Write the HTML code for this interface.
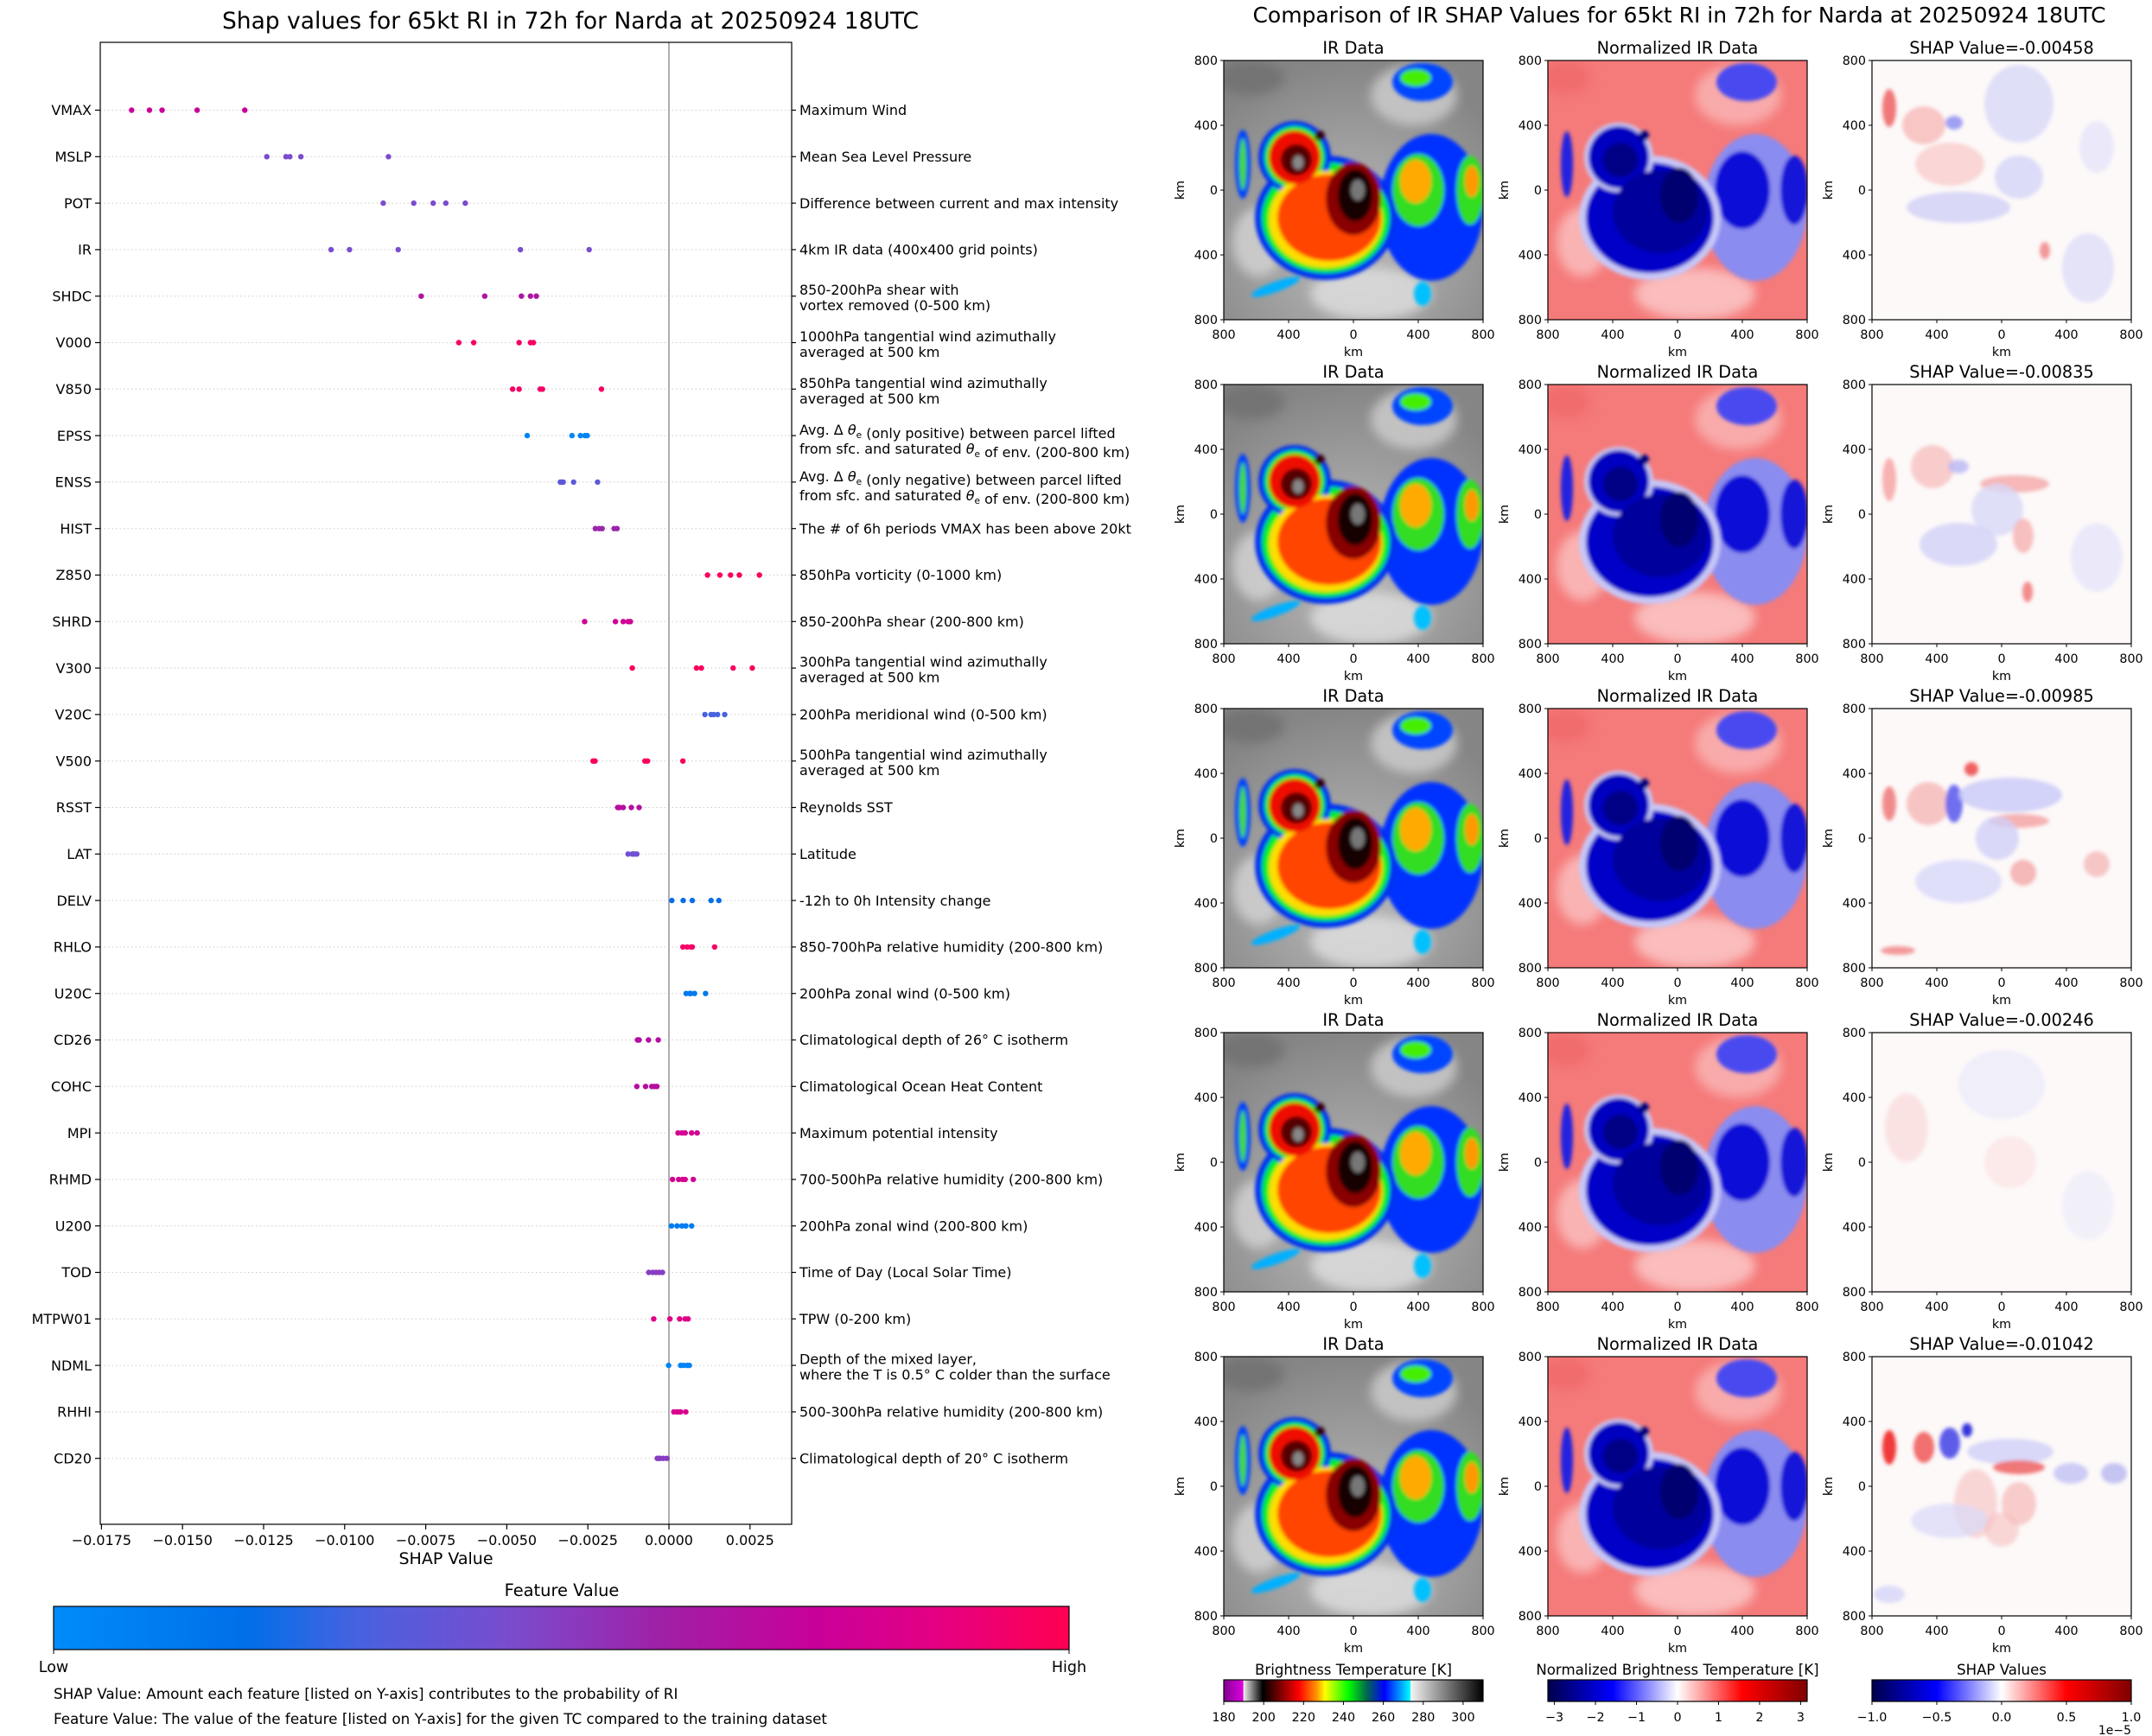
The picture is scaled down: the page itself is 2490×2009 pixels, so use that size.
<!DOCTYPE html>
<html><head><meta charset="utf-8">
<style>
html,body{margin:0;padding:0;background:#fff;}
svg{display:block;font-family:"DejaVu Sans","Liberation Sans",sans-serif;}
</style></head>
<body>
<svg id="root" xmlns="http://www.w3.org/2000/svg" width="2490" height="2009" viewBox="0 0 2490 2009">
<defs>
  <filter id="soft" x="-10%" y="-10%" width="120%" height="120%"><feGaussianBlur stdDeviation="2.2"/></filter>
  <filter id="soft2" x="-20%" y="-20%" width="140%" height="140%"><feGaussianBlur stdDeviation="6"/></filter>
  <clipPath id="pclip"><rect x="0" y="0" width="300" height="300"/></clipPath>
  <linearGradient id="fvgrad" x1="0" x2="1" y1="0" y2="0">
    <stop offset="0" stop-color="#008bfa"/><stop offset="0.19" stop-color="#006fe8"/>
    <stop offset="0.30" stop-color="#4862e0"/><stop offset="0.45" stop-color="#7a4cce"/>
    <stop offset="0.60" stop-color="#a020a6"/><stop offset="0.75" stop-color="#c8009a"/>
    <stop offset="0.87" stop-color="#e40082"/><stop offset="1" stop-color="#ff0052"/>
  </linearGradient>
  <linearGradient id="irgrad" x1="0" x2="1">
    <stop offset="0" stop-color="#800090"/><stop offset="0.075" stop-color="#e000e0"/>
    <stop offset="0.076" stop-color="#f0f0f0"/><stop offset="0.15" stop-color="#000"/>
    <stop offset="0.22" stop-color="#800000"/><stop offset="0.29" stop-color="#ff0000"/>
    <stop offset="0.36" stop-color="#ff9900"/><stop offset="0.39" stop-color="#ffff00"/>
    <stop offset="0.48" stop-color="#00ff00"/><stop offset="0.55" stop-color="#006a4a"/>
    <stop offset="0.62" stop-color="#0000ff"/><stop offset="0.72" stop-color="#00ffff"/>
    <stop offset="0.721" stop-color="#f4f4f4"/><stop offset="1" stop-color="#000"/>
  </linearGradient>
  <linearGradient id="seis" x1="0" x2="1">
    <stop offset="0" stop-color="#00004c"/><stop offset="0.25" stop-color="#0000ff"/>
    <stop offset="0.5" stop-color="#ffffff"/><stop offset="0.75" stop-color="#ff0000"/>
    <stop offset="1" stop-color="#800000"/>
  </linearGradient>
  <radialGradient id="bgir" cx="0.5" cy="0.7" r="0.7">
    <stop offset="0" stop-color="#bdbdbd"/><stop offset="1" stop-color="#858585"/>
  </radialGradient>
  <symbol id="irimg" viewBox="0 0 300 300">
    <rect width="300" height="300" fill="url(#bgir)"/>
    <g filter="url(#soft2)" opacity="0.8">
      <ellipse cx="170" cy="270" rx="70" ry="30" fill="#e0e0e0"/>
      <ellipse cx="220" cy="40" rx="50" ry="35" fill="#cfcfcf"/>
      <ellipse cx="30" cy="20" rx="40" ry="20" fill="#6f6f6f"/>
      <ellipse cx="40" cy="210" rx="30" ry="40" fill="#d4d4d4"/>
    </g>
    <g filter="url(#soft)">
      <ellipse cx="240" cy="170" rx="60" ry="85" fill="#0033ff"/>
      <ellipse cx="230" cy="25" rx="35" ry="22" fill="#0044ff"/>
      <ellipse cx="222" cy="20" rx="18" ry="10" fill="#44ee00"/>
      <ellipse cx="225" cy="150" rx="30" ry="42" fill="#33dd22"/>
      <ellipse cx="222" cy="140" rx="18" ry="25" fill="#ffaa00"/>
      <ellipse cx="285" cy="150" rx="16" ry="40" fill="#33dd22"/>
      <ellipse cx="287" cy="140" rx="8" ry="18" fill="#ff9900"/>
      <ellipse cx="22" cy="120" rx="9" ry="40" fill="#0040ff"/>
      <ellipse cx="22" cy="120" rx="4" ry="30" fill="#44dd00"/>
      <ellipse cx="118" cy="182" rx="82" ry="72" fill="#0030f0"/>
      <ellipse cx="118" cy="182" rx="74" ry="64" fill="#00ee22"/>
      <ellipse cx="82" cy="112" rx="42" ry="42" fill="#0030f0"/>
      <ellipse cx="82" cy="112" rx="35" ry="36" fill="#00ee22"/>
      <ellipse cx="118" cy="184" rx="66" ry="56" fill="#ffdd00"/>
      <ellipse cx="122" cy="182" rx="60" ry="50" fill="#ff4400"/>
      <ellipse cx="82" cy="112" rx="30" ry="31" fill="#ee1100"/>
      <ellipse cx="150" cy="160" rx="32" ry="42" fill="#880000"/>
      <ellipse cx="152" cy="156" rx="20" ry="30" fill="#150000"/>
      <ellipse cx="155" cy="150" rx="8" ry="12" fill="#777"/>
      <ellipse cx="84" cy="115" rx="18" ry="18" fill="#550000"/>
      <ellipse cx="86" cy="118" rx="6" ry="8" fill="#888"/>
      <circle cx="111" cy="87" r="6" fill="#330000"/>
      <ellipse cx="60" cy="262" rx="30" ry="6" fill="#00b0ff" transform="rotate(-20 60 262)"/>
      <ellipse cx="230" cy="270" rx="10" ry="14" fill="#00c0ff"/>
    </g>
  </symbol>
  <symbol id="nimg" viewBox="0 0 300 300">
    <rect width="300" height="300" fill="#f57a7a"/>
    <g filter="url(#soft2)" opacity="0.7">
      <ellipse cx="170" cy="270" rx="70" ry="30" fill="#fdd8d8"/>
      <ellipse cx="220" cy="40" rx="50" ry="35" fill="#fbc0c0"/>
      <ellipse cx="40" cy="210" rx="30" ry="40" fill="#fccccc"/>
      <ellipse cx="20" cy="20" rx="30" ry="20" fill="#f06868"/>
    </g>
    <g filter="url(#soft)">
      <ellipse cx="240" cy="170" rx="60" ry="85" fill="#8a8cf0"/>
      <ellipse cx="230" cy="25" rx="35" ry="22" fill="#4a4af0"/>
      <ellipse cx="225" cy="150" rx="32" ry="45" fill="#1010d8"/>
      <ellipse cx="285" cy="150" rx="16" ry="40" fill="#1818d8"/>
      <ellipse cx="22" cy="120" rx="7" ry="38" fill="#2020e0"/>
      <ellipse cx="118" cy="182" rx="82" ry="72" fill="#c8c8f8"/>
      <ellipse cx="118" cy="182" rx="74" ry="64" fill="#0000c8"/>
      <ellipse cx="82" cy="112" rx="40" ry="40" fill="#c8c8f8"/>
      <ellipse cx="82" cy="112" rx="35" ry="36" fill="#0000c0"/>
      <ellipse cx="130" cy="175" rx="55" ry="48" fill="#00009c"/>
      <ellipse cx="84" cy="115" rx="20" ry="20" fill="#000085"/>
      <ellipse cx="152" cy="156" rx="22" ry="32" fill="#000070"/>
      <circle cx="111" cy="87" r="6" fill="#000080"/>
    </g>
  </symbol>
</defs>
<g id="left"></g>
<g id="right"></g>
</svg>
<script>
// ===== Left chart data =====
const features = ["VMAX","MSLP","POT","IR","SHDC","V000","V850","EPSS","ENSS","HIST","Z850","SHRD","V300","V20C","V500","RSST","LAT","DELV","RHLO","U20C","CD26","COHC","MPI","RHMD","U200","TOD","MTPW01","NDML","RHHI","CD20"];
const descriptions = [
 ["Maximum Wind"],["Mean Sea Level Pressure"],["Difference between current and max intensity"],
 ["4km IR data (400x400 grid points)"],["850-200hPa shear with","vortex removed (0-500 km)"],
 ["1000hPa tangential wind azimuthally","averaged at 500 km"],["850hPa tangential wind azimuthally","averaged at 500 km"],
 ["Avg. Δ θe (only positive) between parcel lifted","from sfc. and saturated θe of env. (200-800 km)"],
 ["Avg. Δ θe (only negative) between parcel lifted","from sfc. and saturated θe of env. (200-800 km)"],
 ["The # of 6h periods VMAX has been above 20kt"],["850hPa vorticity (0-1000 km)"],["850-200hPa shear (200-800 km)"],
 ["300hPa tangential wind azimuthally","averaged at 500 km"],["200hPa meridional wind (0-500 km)"],
 ["500hPa tangential wind azimuthally","averaged at 500 km"],["Reynolds SST"],["Latitude"],
 ["-12h to 0h Intensity change"],["850-700hPa relative humidity (200-800 km)"],["200hPa zonal wind (0-500 km)"],
 ["Climatological depth of 26° C isotherm"],["Climatological Ocean Heat Content"],["Maximum potential intensity"],
 ["700-500hPa relative humidity (200-800 km)"],["200hPa zonal wind (200-800 km)"],["Time of Day (Local Solar Time)"],
 ["TPW (0-200 km)"],["Depth of the mixed layer,","where the T is 0.5° C colder than the surface"],
 ["500-300hPa relative humidity (200-800 km)"],["Climatological depth of 20° C isotherm"]
];
const shapValues = [
 [-0.01657,-0.01602,-0.01563,-0.01455,-0.01308],
 [-0.01240,-0.01181,-0.01169,-0.01135,-0.00865],
 [-0.00881,-0.00787,-0.00727,-0.00688,-0.00628],
 [-0.01042,-0.00985,-0.00835,-0.00458,-0.00246],
 [-0.00764,-0.00568,-0.00455,-0.00427,-0.00409],
 [-0.00648,-0.00602,-0.00462,-0.00427,-0.00418],
 [-0.00482,-0.00462,-0.00397,-0.00390,-0.00208],
 [-0.00437,-0.00299,-0.00273,-0.00259,-0.00252],
 [-0.00335,-0.00330,-0.00326,-0.00294,-0.00220],
 [-0.00227,-0.00215,-0.00206,-0.00169,-0.00160],
 [0.00119,0.00157,0.00190,0.00217,0.00279],
 [-0.00260,-0.00165,-0.00141,-0.00126,-0.00119],
 [-0.00113,0.00085,0.00100,0.00198,0.00257],
 [0.00111,0.00130,0.00138,0.00150,0.00172],
 [-0.00234,-0.00228,-0.00074,-0.00066,0.00043],
 [-0.00158,-0.00152,-0.00141,-0.00116,-0.00092],
 [-0.00126,-0.00113,-0.00110,-0.00107,-0.00099],
 [0.00009,0.00044,0.00072,0.00130,0.00154],
 [0.00043,0.00056,0.00068,0.00072,0.00141],
 [0.00053,0.00064,0.00067,0.00079,0.00113],
 [-0.00097,-0.00095,-0.00092,-0.00063,-0.00033],
 [-0.00099,-0.00072,-0.00053,-0.00045,-0.00037],
 [0.00028,0.00040,0.00050,0.00070,0.00087],
 [0.00011,0.00030,0.00042,0.00050,0.00075],
 [0.00008,0.00025,0.00040,0.00052,0.00070],
 [-0.00062,-0.00050,-0.00040,-0.00030,-0.00020],
 [-0.00047,0.00003,0.00033,0.00050,0.00059],
 [-0.00001,0.00036,0.00045,0.00056,0.00063],
 [0.00015,0.00024,0.00030,0.00036,0.00052],
 [-0.00036,-0.00030,-0.00027,-0.00017,-0.00006]
];
const featureValues = [0.76,0.45,0.45,0.45,0.65,0.95,0.95,0.05,0.36,0.58,0.97,0.78,0.97,0.30,0.97,0.68,0.42,0.20,0.95,0.12,0.68,0.68,0.80,0.80,0.10,0.50,0.85,0.05,0.82,0.50];
const xTicks = [-0.0175,-0.0150,-0.0125,-0.0100,-0.0075,-0.0050,-0.0025,0.0000,0.0025];

// ===== Right panel data =====
const panelShap = ["-0.00458","-0.00835","-0.00985","-0.00246","-0.01042"];
const kmTicks = [800,400,0,400,800];
const irCbTicks = [180,200,220,240,260,280,300];
const normCbTicks = [-3,-2,-1,0,1,2,3];
const shapCbTicks = ["−1.0","−0.5","0.0","0.5","1.0"];

const NS = "http://www.w3.org/2000/svg";
function mk(tag, attrs, parent, text){
  const el = document.createElementNS(NS, tag);
  for (const k in attrs) el.setAttribute(k, attrs[k]);
  if (text !== undefined) el.textContent = text;
  parent.appendChild(el);
  return el;
}
const L = document.getElementById('left');
const R = document.getElementById('right');

const AX = {l:116, r:916, t:49, b:1764};
function xScale(v){ return 774 + v*37520; }
function yRow(i){ return 127.5 + i*53.8; }
const cstops = [[0,[0,139,250]],[0.19,[0,111,232]],[0.30,[72,98,224]],[0.45,[122,76,206]],[0.60,[160,32,166]],[0.75,[200,0,154]],[0.87,[228,0,130]],[1,[255,0,82]]];
function cmap(t){
  for (let i=1;i<cstops.length;i++){
    if (t<=cstops[i][0]){
      const a=cstops[i-1], b=cstops[i]; const f=(t-a[0])/(b[0]-a[0]);
      const c=a[1].map((x,j)=>Math.round(x+(b[1][j]-x)*f));
      return `rgb(${c[0]},${c[1]},${c[2]})`;
    }
  }
  return 'rgb(255,0,82)';
}

let t = mk('text',{x:660,y:33,'font-size':26.5,'text-anchor':'middle',fill:'#000'},L,"Shap values for 65kt RI in 72h for Narda at 20250924 18UTC");



features.forEach((f,i)=>{
  const y = yRow(i);
  const g = mk('line',{x1:AX.l,x2:AX.r,y1:y,y2:y,stroke:'#cccccc','stroke-width':1,'stroke-dasharray':'1.5,3'},L);
  
  
  const tk = mk('line',{x1:AX.l-6,x2:AX.l,y1:y,y2:y,stroke:'#000','stroke-width':1.2},L);
  
  
  const lb = mk('text',{x:AX.l-10,y:y+5.7,'font-size':16,'text-anchor':'end',fill:'#000'},L,f);
  
  
  const tr = mk('line',{x1:AX.r,x2:AX.r+5,y1:y,y2:y,stroke:'#000','stroke-width':1.2},L);
  
  
  const d = descriptions[i];
  const theta = d[0].indexOf('θe')>=0;
  const offs = d.length===1 ? [5.7] : (theta ? [-1, 21] : [-1.5, 16.5]);
  d.forEach((line,k)=>{
    const tx = mk('text',{x:925,y:y+offs[k],'font-size':16,fill:'#000'},L);
    
    
    const parts = line.split('θe');
    parts.forEach((p,pi)=>{
      mk('tspan',{},tx,p);
      if (pi<parts.length-1){
        mk('tspan',{'font-style':'italic'},tx,'θ');
        mk('tspan',{'font-size':10.5,dy:4},tx,'e');
        mk('tspan',{dy:-4},tx,'');
      }
    });
  });
});

let z = mk('line',{x1:xScale(0),x2:xScale(0),y1:AX.t,y2:AX.b,stroke:'#999999','stroke-width':1.6},L);



let fr = mk('rect',{x:AX.l,y:AX.t,width:AX.r-AX.l,height:AX.b-AX.t,fill:'none',stroke:'#000','stroke-width':1.2},L);



shapValues.forEach((row,i)=>{
  row.forEach(v=>{
    const c = mk('circle',{cx:xScale(v),cy:yRow(i),r:3.2,fill:cmap(featureValues[i])},L);
    
    
  });
});

xTicks.forEach(v=>{
  const x = xScale(v);
  const tk = mk('line',{x1:x,x2:x,y1:AX.b,y2:AX.b+6,stroke:'#000','stroke-width':1.2},L);
  
  
  const s = (v<0?'−':'') + Math.abs(v).toFixed(4);
  const lb = mk('text',{x:x,y:AX.b+24,'font-size':16,'text-anchor':'middle',fill:'#000'},L,s);
  
  
});
let xl = mk('text',{x:516,y:1810,'font-size':19,'text-anchor':'middle',fill:'#000'},L,"SHAP Value");



let ft = mk('text',{x:650,y:1847,'font-size':19.4,'text-anchor':'middle',fill:'#000'},L,"Feature Value");


let cb = mk('rect',{x:62,y:1859,width:1175,height:50,fill:'url(#fvgrad)',stroke:'#000','stroke-width':1.2},L);


[[62,"Low"],[1237,"High"]].forEach(([x,s])=>{
  const tk = mk('line',{x1:x,x2:x,y1:1909,y2:1914,stroke:'#000'},L);
  
  
  const lb = mk('text',{x:x,y:1935,'font-size':17.5,'text-anchor':'middle',fill:'#000'},L,s);
  
  
});
let n1 = mk('text',{x:62,y:1966,'font-size':16.8,fill:'#000'},L,"SHAP Value: Amount each feature [listed on Y-axis] contributes to the probability of RI");


let n2 = mk('text',{x:62,y:1995,'font-size':16.8,fill:'#000'},L,"Feature Value: The value of the feature [listed on Y-axis] for the given TC compared to the training dataset");



// ===== Right grid =====
let rt = mk('text',{x:1943,y:26,'font-size':25,'text-anchor':'middle',fill:'#000'},R,"Comparison of IR SHAP Values for 65kt RI in 72h for Narda at 20250924 18UTC");



const colX = [1416,1791,2166];
const rowY = [70,445,820,1195,1570];
const shapPatches = [
 [[20,55,8,22,'#f06a6a',0.9],[60,75,25,22,'#f7b0b0',0.7],[95,72,10,8,'#8a8af0',0.8],[170,50,40,45,'#d8d8f8',0.8],[170,135,28,25,'#d4d4f8',0.8],[100,170,60,18,'#d0d0f6',0.8],[90,120,40,25,'#f9c8c8',0.7],[200,220,6,10,'#f08080',0.8],[250,240,30,40,'#dadaf8',0.7],[260,100,20,30,'#e0e0fa',0.6]],
 [[20,110,8,25,'#f6a0a0',0.8],[70,95,25,25,'#f7c0c0',0.8],[100,95,12,8,'#b8b8f4',0.8],[165,115,40,10,'#f4a8a8',0.8],[145,145,30,30,'#d8d8f8',0.8],[100,185,45,25,'#d2d2f8',0.8],[175,175,12,20,'#f6b0b0',0.8],[180,240,6,12,'#f07070',0.8],[260,200,30,40,'#e0e0fa',0.6]],
 [[20,110,8,20,'#f08080',0.9],[65,110,25,25,'#f6b8b8',0.8],[95,110,10,22,'#6060ee',0.9],[115,70,8,8,'#f05050',0.9],[160,100,60,20,'#c8c8f8',0.8],[170,130,35,8,'#f4a0a0',0.8],[145,150,25,25,'#d0d0f8',0.8],[175,190,15,15,'#f4a8a8',0.8],[100,200,50,25,'#d8d8fa',0.8],[260,180,15,15,'#f4b0b0',0.7],[30,280,20,5,'#f08080',0.8]],
 [[40,110,25,40,'#fad8d8',0.7],[150,60,50,40,'#e6e6fa',0.6],[160,150,30,30,'#fbe0e0',0.6],[250,200,30,40,'#eaeafa',0.6]],
 [[20,105,8,20,'#f03030',0.95],[60,105,12,18,'#f06060',0.9],[90,100,12,18,'#4a4ae8',0.9],[110,85,6,8,'#2020d8',0.9],[160,110,50,15,'#d0d0f8',0.8],[170,128,30,8,'#f06a6a',0.9],[230,135,20,12,'#c0c0f4',0.8],[280,135,15,12,'#b8b8f0',0.8],[120,170,25,40,'#f8c8c8',0.7],[170,170,20,25,'#f6b8b8',0.7],[90,190,45,20,'#d8d8f8',0.7],[20,275,18,10,'#d0d0f8',0.7],[150,200,20,20,'#f6c0c0',0.6]]
];

function ticksFor(px,py,g){
  kmTicks.forEach((v,k)=>{
    const x = px + k*75, y = py + k*75;
    let a = mk('line',{x1:x,x2:x,y1:py+300,y2:py+304,stroke:'#000'},g);
    
    
    let b = mk('text',{x:x,y:py+322,'font-size':14.3,'text-anchor':'middle',fill:'#000'},g,String(v));
    
    
    let c = mk('line',{x1:px-4,x2:px,y1:y,y2:y,stroke:'#000'},g);
    
    
    let d = mk('text',{x:px-7,y:y+5,'font-size':14.3,'text-anchor':'end',fill:'#000'},g,String(v));
    
    
  });
  let xk = mk('text',{x:px+150,y:py+342,'font-size':14.3,'text-anchor':'middle',fill:'#000'},g,"km");
  
  
  let yk = mk('text',{x:0,y:0,'font-size':14.3,'text-anchor':'middle',fill:'#000',transform:`translate(${px-46},${py+150}) rotate(-90)`},g,"km");
  
  
}

rowY.forEach((py,ri)=>{
  const titles = ["IR Data","Normalized IR Data","SHAP Value="+panelShap[ri]];
  colX.forEach((px,ci)=>{
    const g = mk('g',{},R);
    
    
    if (ci<2){
      const u = mk('use',{href:ci===0?'#irimg':'#nimg',x:px,y:py,width:300,height:300},g);
      
      
    } else {
      const sg = mk('g',{transform:`translate(${px},${py})`,'clip-path':'url(#pclip)'},g);
      
      
      mk('rect',{x:0,y:0,width:300,height:300,fill:'#fdf9f9'},sg);
      const pg = mk('g',{filter:'url(#soft)'},sg);
      shapPatches[ri].forEach(p=>{
        mk('ellipse',{cx:p[0],cy:p[1],rx:p[2],ry:p[3],fill:p[4],opacity:p[5]},pg);
      });
    }
    const fr = mk('rect',{x:px,y:py,width:300,height:300,fill:'none',stroke:'#000','stroke-width':1.2},g);
    
    
    const tt = mk('text',{x:px+150,y:py-8,'font-size':19.3,'text-anchor':'middle',fill:'#000'},g,titles[ci]);
    
    
    ticksFor(px,py,g);
  });
});

const cbInfo = [
 {x:1416,title:"Brightness Temperature [K]",fill:'url(#irgrad)',ticks:irCbTicks,lo:180,hi:310,name:'brightness-temperature-colorbar'},
 {x:1791,title:"Normalized Brightness Temperature [K]",fill:'url(#seis)',ticks:normCbTicks,lo:-3.16,hi:3.16,name:'normalized-temperature-colorbar'},
 {x:2166,title:"SHAP Values",fill:'url(#seis)',ticks:shapCbTicks,lo:-1,hi:1,name:'shap-values-colorbar'}
];
cbInfo.forEach(c=>{
  const g = mk('g',{},R);
  
  
  const tt = mk('text',{x:c.x+150,y:1938,'font-size':16.6,'text-anchor':'middle',fill:'#000'},g,c.title);
  
  
  const r = mk('rect',{x:c.x,y:1944,width:300,height:25,fill:c.fill,stroke:'#000','stroke-width':1.2},g);
  
  
  c.ticks.forEach(v=>{
    const num = typeof v==='string' ? parseFloat(v.replace('−','-')) : v;
    const x = c.x + (num-c.lo)/(c.hi-c.lo)*300;
    const tk = mk('line',{x1:x,x2:x,y1:1969,y2:1973,stroke:'#000'},g);
    
    
    const s = typeof v==='string' ? v : (v<0?'−'+Math.abs(v):String(v));
    const lb = mk('text',{x:x,y:1992,'font-size':14.3,'text-anchor':'middle',fill:'#000'},g,s);
    
    
  });
});
let ex = mk('text',{x:2466,y:2007,'font-size':14,'text-anchor':'end',fill:'#000'},R,"1e−5");


</script>
</body></html>
